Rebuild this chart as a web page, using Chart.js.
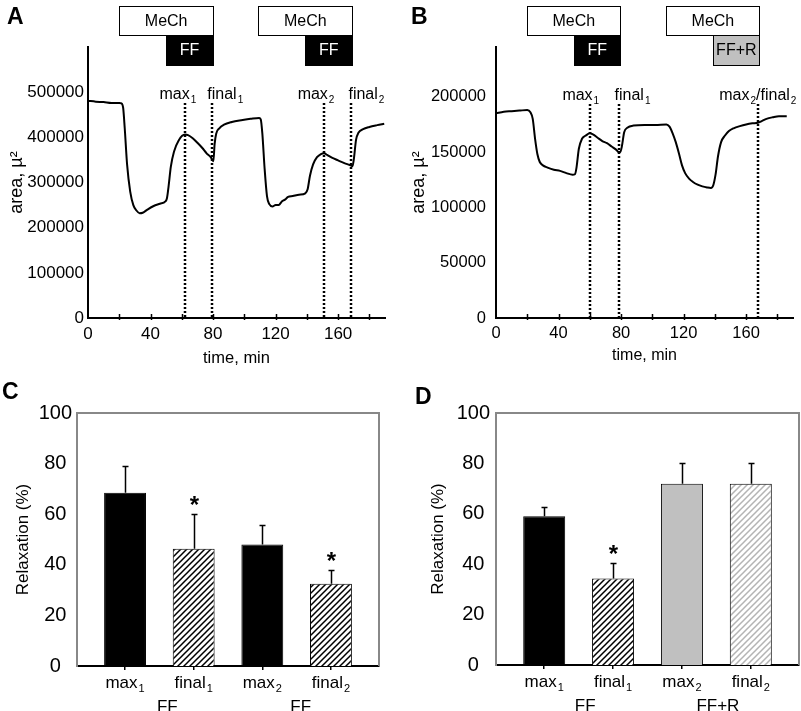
<!DOCTYPE html>
<html lang="en">
<head>
<meta charset="UTF-8" />
<title>MeCh / FF relaxation</title>
<script src="https://cdn.jsdelivr.net/npm/chart.js"></script>
<style>
  body { margin: 0; background: #fff; }
  #fig { position: relative; width: 801px; height: 711px; font-family: "Liberation Sans", Arial, sans-serif; }
  #fig canvas { position: absolute; }
  .tag { position: absolute; font-weight: bold; font-size: 23px; line-height: normal; }
</style>
</head>
<body>
<div id="fig">
  <canvas id="chartA" width="400" height="370" style="left:0;top:0"></canvas>
  <canvas id="chartB" width="401" height="370" style="left:400px;top:0"></canvas>
  <canvas id="chartC" width="400" height="341" style="left:0;top:370px"></canvas>
  <canvas id="chartD" width="401" height="341" style="left:400px;top:370px"></canvas>
  <div class="tag" style="left:7px;top:3px">A</div>
  <div class="tag" style="left:411px;top:3px">B</div>
  <div class="tag" style="left:2px;top:378px">C</div>
  <div class="tag" style="left:415px;top:383px">D</div>
</div>

<script>
const FONT = '"Liberation Sans", Arial, sans-serif';
Chart.defaults.font.family = FONT;
Chart.defaults.color = '#000';

// panel A: airway area trace (min, µm²)
const timeA = [0, 5, 10, 15, 20, 21.5, 22.5, 23.5, 25, 27, 29, 31, 33, 35, 38, 42, 46, 49.5, 50.5, 51.5, 53, 55, 58, 62,
  64, 67, 70, 73, 76, 78.5, 79.5, 80.2, 81, 82, 84, 87, 92, 98, 104, 109.5, 110.5, 111.5, 113, 114.5, 116, 118, 120,
  122, 124, 126, 128, 131, 135, 139, 140.5, 142, 144, 146.5, 149, 151, 153, 156, 160, 164, 168, 169.2, 170, 171.5,
  173, 176, 180, 185, 189.5];
const areaA = [481000, 479000, 478000, 476000, 476000, 475000, 465000, 420000, 340000, 280000, 250000, 238000, 232000,
  233000, 240000, 248000, 253000, 258000, 265000, 290000, 335000, 368000, 393000, 406000, 405000, 398000, 388000,
  377000, 364000, 356000, 350000, 347000, 385000, 408000, 420000, 428000, 434000, 438000, 441000, 443000, 440000,
  410000, 330000, 270000, 252000, 247000, 250000, 250000, 258000, 262000, 268000, 270000, 273000, 276000, 285000,
  315000, 340000, 356000, 363000, 365000, 361000, 355000, 349000, 343000, 338000, 336000, 350000, 395000, 410000,
  418000, 423000, 427000, 430000];
const yTicksA = [0, 100000, 200000, 300000, 400000, 500000];
const mechA = [[20, 80], [109, 169]];
const drugStartA = [50, 139];
const drugNamesA = ['FF', 'FF'];
const markTimesA = [62, 79.5, 151, 168.5];
const markNamesA = ['max_1', 'final_1', 'max_2', 'final_2'];

// panel B
const timeB = [0, 5, 10, 15, 20, 22, 23.5, 25, 26.5, 28, 30, 33, 37, 41, 45, 49, 50.5, 51.5, 53, 55, 57.5, 60, 62, 65,
  68, 71, 74, 77, 78.5, 79.5, 80.5, 82, 84, 88, 95, 102, 109, 111, 113, 115, 117, 119, 121, 123.5, 126, 129, 132,
  135, 137.5, 139, 140.5, 142, 144, 146.5, 149, 152, 156, 160, 164, 167.5, 170, 173, 177, 181, 186];
const areaB = [185000, 186500, 187000, 187500, 188000, 186000, 180000, 162000, 148000, 141000, 138000, 136000, 134000,
  133000, 131000, 129500, 130000, 136000, 153000, 162000, 165000, 167000, 166000, 163000, 160000, 158000, 155000,
  152000, 150000, 150000, 155000, 168000, 172000, 174000, 174500, 174500, 175000, 173000, 167000, 159000, 149000,
  138000, 131000, 126000, 123000, 120500, 119000, 118000, 117500, 120000, 130000, 146000, 159000, 165000, 169000,
  171500, 173500, 175000, 176000, 176500, 178000, 180000, 181500, 182500, 182500];
const yTicksB = [0, 50000, 100000, 150000, 200000];
const mechB = [[20, 79.5], [109, 168.5]];
const drugStartB = [50, 139];
const drugNamesB = ['FF', 'FF+R'];
const markTimesB = [60, 79, 167.5];
const markNamesB = ['max_1', 'final_1', 'max_2/final_2'];

// shared time ticks (labels every 40 min)
const timeTicks = [0, 20, 40, 60, 80, 100, 120, 140, 160, 180];

// panels C and D: relaxation (%), mean and SEM
const barNames = ['max_1', 'final_1', 'max_2', 'final_2'];
const relaxC = [68.5, 46.3, 48, 32.5];
const semC = [10.4, 13.8, 7.9, 5.6];
const starC = [false, true, false, true];
const groupsC = ['FF', 'FF'];
const relaxD = [59, 34.3, 71.9, 71.9];
const semD = [3.7, 6, 8.1, 8.1];
const starD = [false, true, false, false];
const groupsD = ['FF', 'FF+R'];

// text with _digit subscripts, centred on cx
function drawParts(ctx, str, cx, y, size) {
  const parts = str.split(/_(\d)/);
  const big = size + 'px ' + FONT, small = Math.round(size * 0.65) + 'px ' + FONT;
  let w = 0;
  parts.forEach((p, i) => { ctx.font = i % 2 ? small : big; w += ctx.measureText(p).width + (i % 2 ? 1 : 0); });
  let xx = cx - w / 2;
  ctx.textAlign = 'left';
  ctx.textBaseline = 'alphabetic';
  ctx.fillStyle = '#000';
  parts.forEach((p, i) => {
    const sub = i % 2 === 1;
    ctx.font = sub ? small : big;
    if (sub) xx += 1;
    ctx.fillText(p, xx, sub ? y + size * 0.25 : y);
    xx += ctx.measureText(p).width;
  });
}

function box(ctx, x, y, w, h, fill, ink, text) {
  ctx.fillStyle = fill;
  ctx.fillRect(x, y, w, h);
  ctx.strokeStyle = '#000';
  ctx.lineWidth = 1;
  ctx.strokeRect(Math.round(x) + 0.5, y + 0.5, Math.round(w), h);
  ctx.fillStyle = ink;
  ctx.font = '16px ' + FONT;
  ctx.textAlign = 'center';
  ctx.textBaseline = 'middle';
  ctx.fillText(text, x + w / 2, y + h / 2 + 1);
}

const markerPlugin = {
  id: 'markers',
  afterDraw(chart, args, o) {
    const { ctx, chartArea: a, scales: { x } } = chart;
    ctx.save();
    ctx.strokeStyle = '#000';
    ctx.lineWidth = 1.5;
    x.ticks.forEach(t => {
      if (t.value <= 0) return;
      const px = Math.round(x.getPixelForValue(t.value)) + 0.5;
      ctx.beginPath(); ctx.moveTo(px, a.bottom + 2); ctx.lineTo(px, a.bottom - 4); ctx.stroke();
    });
    ctx.lineWidth = 2.5;
    ctx.setLineDash([2, 2]);
    o.times.forEach(t => {
      const px = Math.round(x.getPixelForValue(t));
      ctx.beginPath(); ctx.moveTo(px, o.lineTop); ctx.lineTo(px, a.bottom); ctx.stroke();
    });
    ctx.setLineDash([]);
    o.times.forEach((t, i) => drawParts(ctx, o.names[i], x.getPixelForValue(t) + o.dx[i], o.labelY, 16));
    o.mech.forEach((m, i) => {
      const x0 = x.getPixelForValue(m[0]), x1 = x.getPixelForValue(m[1]);
      box(ctx, x0, 6, x1 - x0, 29, '#fff', '#000', 'MeCh');
      const d0 = x.getPixelForValue(o.drugStart[i]);
      box(ctx, d0, 35, x1 - d0, 30, o.drugFill[i], o.drugInk[i], o.drugNames[i]);
    });
    ctx.restore();
  }
};

function traceChart(id, times, areas, yTicks, o) {
  return new Chart(document.getElementById(id), {
    type: 'line',
    data: {
      datasets: [{
        data: times.map((t, i) => ({ x: t, y: areas[i] })),
        borderColor: '#000', borderWidth: 2, pointRadius: 0,
        cubicInterpolationMode: 'monotone', fill: false
      }]
    },
    options: {
      responsive: false, animation: false, devicePixelRatio: 1,
      layout: { padding: { left: 0, right: o.right, top: 47, bottom: 0 } },
      plugins: { legend: { display: false }, tooltip: { enabled: false }, markers: o.markers },
      scales: {
        x: {
          type: 'linear', min: 0, max: 190,
          afterBuildTicks: s => { s.ticks = timeTicks.map(v => ({ value: v })); },
          ticks: { autoSkip: false, maxRotation: 0, padding: 6,
                   font: { size: o.tickSize }, callback: v => (v % 40 === 0 ? String(v) : '') },
          grid: { display: false, drawTicks: false },
          border: { color: '#000', width: 2 },
          title: { display: true, text: 'time, min', font: { size: o.tickSize - 0.5 }, padding: { top: 0, bottom: o.xTitlePad } },
          afterFit: s => { s.height = 52; }
        },
        y: {
          min: 0, max: o.yMax,
          afterBuildTicks: s => { s.ticks = yTicks.map(v => ({ value: v })); },
          ticks: { padding: o.yPad, font: { size: o.tickSize }, callback: v => String(v) },
          grid: { display: false, drawTicks: false },
          border: { color: '#000', width: 2 },
          title: { display: true, text: 'area, µ²', font: { size: 18 }, padding: { top: o.yTitlePad, bottom: 0 } },
          afterFit: s => { s.width = o.yWidth; }
        }
      }
    },
    plugins: [markerPlugin]
  });
}

function hatch(color, lw) {
  const c = document.createElement('canvas');
  c.width = c.height = 6;
  const g = c.getContext('2d');
  g.fillStyle = '#fff';
  g.fillRect(0, 0, 6, 6);
  g.strokeStyle = color;
  g.lineWidth = lw;
  g.beginPath();
  g.moveTo(-1, 7); g.lineTo(7, -1);
  g.moveTo(-1, 1); g.lineTo(1, -1);
  g.moveTo(5, 7); g.lineTo(7, 5);
  g.stroke();
  return g.createPattern(c, 'repeat');
}

const barPlugin = {
  id: 'barExtras',
  afterDraw(chart, args, o) {
    const { ctx, chartArea: a, scales: { y } } = chart;
    const bars = chart.getDatasetMeta(0).data;
    ctx.save();
    ctx.strokeStyle = '#888';
    ctx.lineWidth = 2;
    ctx.beginPath(); ctx.moveTo(a.left, a.top); ctx.lineTo(a.right, a.top); ctx.lineTo(a.right, a.bottom); ctx.stroke();
    ctx.strokeStyle = '#000';
    ctx.lineWidth = 1.5;
    o.values.forEach((v, i) => {
      const bx = Math.round(bars[i].x) + 0.5;
      const y0 = y.getPixelForValue(v), y1 = Math.round(y.getPixelForValue(v + o.sems[i])) + 0.5;
      ctx.beginPath(); ctx.moveTo(bx, y0); ctx.lineTo(bx, y1); ctx.moveTo(bx - 3, y1); ctx.lineTo(bx + 3, y1); ctx.stroke();
      if (o.stars[i]) {
        ctx.fillStyle = '#000';
        ctx.font = 'bold 24px ' + FONT;
        ctx.textAlign = 'center';
        ctx.textBaseline = 'alphabetic';
        ctx.fillText('*', bx, y1 - 2);
      }
      drawParts(ctx, barNames[i], bars[i].x, a.bottom + 22, 17);
    });
    o.groups.forEach((g, k) => {
      const cx = (bars[2 * k].x + bars[2 * k + 1].x) / 2 + o.gdx[k];
      ctx.font = '17px ' + FONT;
      ctx.fillStyle = '#000';
      ctx.textAlign = 'center';
      ctx.textBaseline = 'alphabetic';
      ctx.fillText(g, cx, a.bottom + 46);
    });
    ctx.restore();
  }
};

function barChart(id, values, sems, stars, groups, fills, o) {
  const xs = values.map((v, i) => i + 1);
  return new Chart(document.getElementById(id), {
    type: 'bar',
    data: {
      datasets: [{
        data: xs.map((x, i) => ({ x: x, y: values[i] })),
        backgroundColor: fills, borderColor: '#000', borderWidth: 1,
        barPercentage: 0.61, categoryPercentage: 1
      }]
    },
    options: {
      responsive: false, animation: false, devicePixelRatio: 1,
      layout: { padding: { left: 0, right: o.right, top: 43, bottom: 0 } },
      plugins: { legend: { display: false }, tooltip: { enabled: false },
                 barExtras: { values, sems, stars, groups, gdx: o.gdx } },
      scales: {
        x: {
          type: 'linear', min: 0.3, max: 4.7, offset: false,
          afterBuildTicks: s => { s.ticks = xs.map(v => ({ value: v })); },
          ticks: { display: false },
          grid: { drawOnChartArea: false, drawTicks: true, tickLength: 4, color: '#000', lineWidth: 1.5, offset: false },
          border: { color: '#000', width: 2 },
          afterFit: s => { s.height = o.xHeight; }
        },
        y: {
          min: 0, max: 100,
          ticks: { stepSize: 20, crossAlign: 'center', padding: o.yPad, font: { size: 20 } },
          grid: { display: false, drawTicks: false },
          border: { color: '#888', width: 2 },
          title: { display: true, text: 'Relaxation (%)', font: { size: 17 }, padding: { top: o.yTitlePad, bottom: 0 } },
          afterFit: s => { s.width = o.yWidth; }
        }
      }
    },
    plugins: [barPlugin]
  });
}

traceChart('chartA', timeA, areaA, yTicksA, {
  right: 15, tickSize: 17, xTitlePad: 2, yMax: 600000, yPad: 4, yTitlePad: 6, yWidth: 88,
  markers: { mech: mechA, drugStart: drugStartA, drugNames: drugNamesA, drugFill: ['#000', '#000'], drugInk: ['#fff', '#fff'],
             times: markTimesA, names: markNamesA, dx: [-7, 13, -8, 15], labelY: 99, lineTop: 103 }
});

traceChart('chartB', timeB, areaB, yTicksB, {
  right: 8, tickSize: 16.5, xTitlePad: 5, yMax: 245000, yPad: 10, yTitlePad: 8, yWidth: 96,
  markers: { mech: mechB, drugStart: drugStartB, drugNames: drugNamesB, drugFill: ['#000', '#c0c0c0'], drugInk: ['#fff', '#000'],
             times: markTimesB, names: markNamesB, dx: [-9, 13, 0], labelY: 100, lineTop: 104 }
});

const blackHatch = hatch('#000', 1.5);
const greyHatch = hatch('#b4b4b4', 1.5);

barChart('chartC', relaxC, semC, starC, groupsC, ['#000', blackHatch, '#000', blackHatch],
  { right: 21, xHeight: 45, yPad: 5, yTitlePad: 13, yWidth: 77, gdx: [8, 4] });

barChart('chartD', relaxD, semD, starD, groupsD, ['#000', blackHatch, '#c0c0c0', greyHatch],
  { right: 2, xHeight: 46, yPad: 6, yTitlePad: 28, yWidth: 96, gdx: [6.5, 1.5] });
</script>
</body>
</html>
